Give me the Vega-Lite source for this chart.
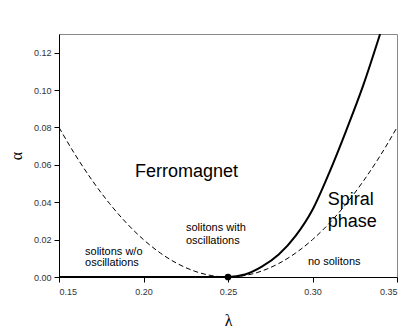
{
  "$schema": "https://vega.github.io/schema/vega-lite/v6.json",
  "autosize": "none",
  "width": 338,
  "height": 243,
  "padding": {"left": 59, "top": 34, "right": 18, "bottom": 53},
  "background": "white",
  "config": {
    "view": {"stroke": "#888888", "strokeWidth": 1},
    "font": "Liberation Sans",
    "axis": {
      "grid": false,
      "domainColor": "#000000",
      "tickColor": "#000000",
      "labelFont": "Liberation Sans",
      "labelFontSize": 9,
      "labelColor": "#333333",
      "tickSize": 5,
      "titleFont": "Liberation Serif",
      "titleFontWeight": "normal",
      "titleFontSize": 16,
      "titleColor": "#000000"
    }
  },
  "datasets": {
    "dashed": [
      {"lambda": 0.15, "alpha": 0.08},
      {"lambda": 0.16, "alpha": 0.0648},
      {"lambda": 0.17, "alpha": 0.0512},
      {"lambda": 0.18, "alpha": 0.0392},
      {"lambda": 0.19, "alpha": 0.0288},
      {"lambda": 0.20, "alpha": 0.02},
      {"lambda": 0.21, "alpha": 0.0128},
      {"lambda": 0.22, "alpha": 0.0072},
      {"lambda": 0.23, "alpha": 0.0032},
      {"lambda": 0.24, "alpha": 0.0008},
      {"lambda": 0.25, "alpha": 0.0},
      {"lambda": 0.26, "alpha": 0.0008},
      {"lambda": 0.27, "alpha": 0.0032},
      {"lambda": 0.28, "alpha": 0.0072},
      {"lambda": 0.29, "alpha": 0.0128},
      {"lambda": 0.30, "alpha": 0.02},
      {"lambda": 0.31, "alpha": 0.0288},
      {"lambda": 0.32, "alpha": 0.0392},
      {"lambda": 0.33, "alpha": 0.0512},
      {"lambda": 0.34, "alpha": 0.0648},
      {"lambda": 0.35, "alpha": 0.08}
    ],
    "solid": [
      {"lambda": 0.15, "alpha": 0.0},
      {"lambda": 0.25, "alpha": 0.0},
      {"lambda": 0.26, "alpha": 0.0013},
      {"lambda": 0.27, "alpha": 0.0055},
      {"lambda": 0.28, "alpha": 0.012},
      {"lambda": 0.29, "alpha": 0.022},
      {"lambda": 0.30, "alpha": 0.036},
      {"lambda": 0.31, "alpha": 0.056},
      {"lambda": 0.32, "alpha": 0.0785},
      {"lambda": 0.33, "alpha": 0.1025},
      {"lambda": 0.34, "alpha": 0.13}
    ],
    "dot": [{"lambda": 0.25, "alpha": 0.0}],
    "big": [
      {"lambda": 0.195, "alpha": 0.0536, "label": "Ferromagnet"},
      {"lambda": 0.309, "alpha": 0.0386, "label": "Spiral"},
      {"lambda": 0.309, "alpha": 0.0268, "label": "phase"}
    ],
    "small": [
      {"lambda": 0.1654, "alpha": 0.0118, "label": "solitons w/o"},
      {"lambda": 0.1654, "alpha": 0.0059, "label": "oscillations"},
      {"lambda": 0.2251, "alpha": 0.0248, "label": "solitons with"},
      {"lambda": 0.2251, "alpha": 0.0177, "label": "oscillations"},
      {"lambda": 0.2973, "alpha": 0.0064, "label": "no solitons"}
    ]
  },
  "encoding": {
    "x": {
      "field": "lambda", "type": "quantitative",
      "scale": {"domain": [0.15, 0.35], "nice": false, "zero": false},
      "axis": {"values": [0.15, 0.2, 0.25, 0.3, 0.35], "format": ".2f", "title": "λ", "titlePadding": 16, "labelPadding": 5}
    },
    "y": {
      "field": "alpha", "type": "quantitative",
      "scale": {"domain": [0, 0.13], "nice": false},
      "axis": {"values": [0, 0.02, 0.04, 0.06, 0.08, 0.1, 0.12], "format": ".2f", "title": "α", "titlePadding": 9, "labelPadding": 3}
    }
  },
  "layer": [
    {
      "data": {"name": "dashed"},
      "mark": {"type": "line", "color": "#000000", "strokeWidth": 1, "strokeDash": [5, 3], "interpolate": "monotone", "clip": true}
    },
    {
      "data": {"name": "solid"},
      "mark": {"type": "line", "color": "#000000", "strokeWidth": 2, "interpolate": "monotone", "clip": true}
    },
    {
      "data": {"name": "dot"},
      "mark": {"type": "point", "filled": true, "color": "#000000", "size": 45, "opacity": 1}
    },
    {
      "data": {"name": "big"},
      "mark": {"type": "text", "align": "left", "baseline": "alphabetic", "fontSize": 18, "color": "#000000", "font": "Liberation Sans"},
      "encoding": {"text": {"field": "label"}}
    },
    {
      "data": {"name": "small"},
      "mark": {"type": "text", "align": "left", "baseline": "alphabetic", "fontSize": 11, "color": "#000000", "font": "Liberation Sans"},
      "encoding": {"text": {"field": "label"}}
    }
  ]
}
